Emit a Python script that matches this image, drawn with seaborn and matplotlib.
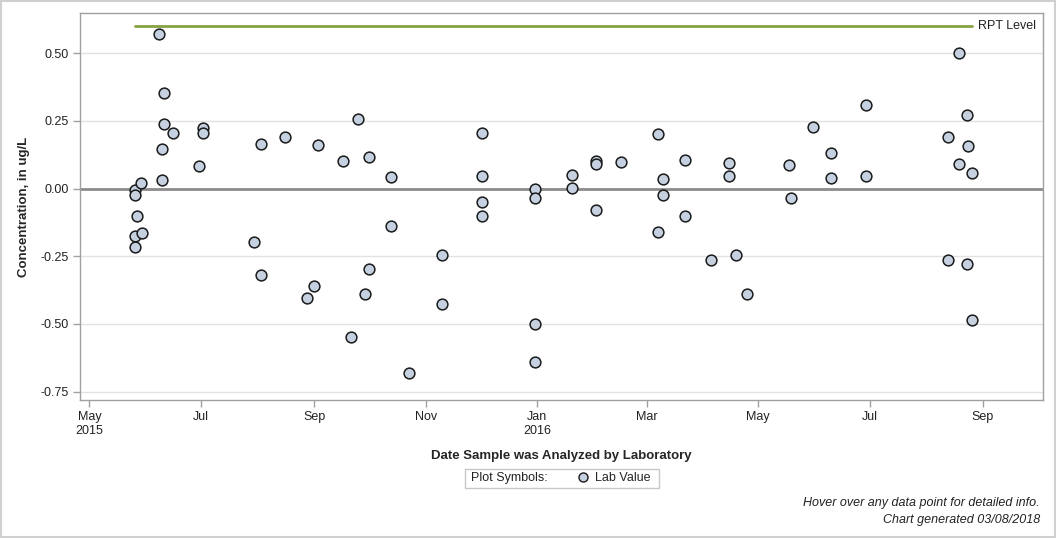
import numpy as np
import pandas as pd
import matplotlib
matplotlib.use('Agg')
import matplotlib.pyplot as plt
import matplotlib.dates as mdates
from matplotlib.lines import Line2D
import seaborn as sns

# sample dates (lab analysis) and concentration values
dates = [
    "2015-05-26", "2015-05-26", "2015-05-26", "2015-05-26", "2015-05-27", "2015-05-29", "2015-05-30",
    "2015-06-08", "2015-06-10", "2015-06-10", "2015-06-11", "2015-06-11", "2015-06-16",
    "2015-06-30", "2015-07-02", "2015-07-02",
    "2015-07-30", "2015-08-03", "2015-08-03", "2015-08-16", "2015-08-28",
    "2015-09-01", "2015-09-03", "2015-09-17", "2015-09-21", "2015-09-25", "2015-09-29",
    "2015-10-01", "2015-10-01", "2015-10-13", "2015-10-13", "2015-10-23",
    "2015-11-10", "2015-11-10",
    "2015-12-02", "2015-12-02", "2015-12-02", "2015-12-02",
    "2015-12-31", "2015-12-31", "2015-12-31", "2015-12-31",
    "2016-01-20", "2016-01-20",
    "2016-02-02", "2016-02-02", "2016-02-02", "2016-02-16",
    "2016-03-07", "2016-03-07", "2016-03-10", "2016-03-10", "2016-03-22", "2016-03-22",
    "2016-04-05", "2016-04-15", "2016-04-15", "2016-04-19", "2016-04-25",
    "2016-05-18", "2016-05-19", "2016-05-31",
    "2016-06-10", "2016-06-10", "2016-06-29", "2016-06-29",
    "2016-08-13", "2016-08-13", "2016-08-19", "2016-08-19",
    "2016-08-23", "2016-08-23", "2016-08-24", "2016-08-26", "2016-08-26",
]
values = [
    -0.006, -0.025, -0.174, -0.214, -0.102, 0.022, -0.165,
    0.572, 0.145, 0.033, 0.354, 0.240, 0.207,
    0.085, 0.225, 0.207,
    -0.199, 0.164, -0.318, 0.189, -0.405,
    -0.358, 0.162, 0.103, -0.550, 0.258, -0.391,
    0.116, -0.298, 0.044, -0.137, -0.683,
    -0.247, -0.428,
    0.207, 0.048, -0.048, -0.100,
    0.000, -0.033, -0.499, -0.639,
    0.052, 0.004,
    0.101, 0.092, -0.078, 0.100,
    0.203, -0.159, 0.036, -0.022, 0.107, -0.103,
    -0.265, 0.096, 0.048, -0.244, -0.391,
    0.089, -0.033, 0.229,
    0.133, 0.041, 0.310, 0.045,
    0.192, -0.265, 0.502, 0.092,
    0.273, -0.277, 0.156, 0.057, -0.487,
]
rpt_level = 0.6
y_ticks = [-0.75, -0.50, -0.25, 0.00, 0.25, 0.50]

df = pd.DataFrame({"date": pd.to_datetime(dates), "value": values})

sns.set_theme(style="white")
plt.rcParams['font.family'] = ['Liberation Sans', 'DejaVu Sans']

W, H = 1056, 538
fig = plt.figure(figsize=(W / 100, H / 100), dpi=100)
ax = fig.add_axes([0.0760, 0.2560, 0.9120, 0.7204])

# horizontal grid + zero reference
for t in y_ticks:
    ax.axhline(t, color='#e2e2e2', linewidth=1, zorder=0)
ax.axhline(0, color='#8c8c8c', linewidth=2, zorder=1)

# RPT level line spans first to last sample
ax.plot([df['date'].min(), df['date'].max()], [rpt_level, rpt_level],
        color='#86a044', linewidth=2, zorder=2)
ax.text(df['date'].max() + pd.Timedelta(days=3), rpt_level, "RPT Level",
        fontsize=9, color='#222222', va='center', ha='left')

sns.scatterplot(data=df, x='date', y='value', ax=ax, s=60,
                color='#c5d1e1', edgecolor='#1a1a1a', linewidth=1.1, zorder=3, legend=False)

ax.set_xlim(pd.Timestamp("2015-04-26"), pd.Timestamp("2016-10-04"))
ax.set_ylim(-0.782, 0.650)
ax.set_yticks(y_ticks)
ax.set_yticklabels([f"{t:.2f}" for t in y_ticks])

ax.xaxis.set_major_locator(mdates.MonthLocator(bymonth=[1, 3, 5, 7, 9, 11]))

def fmt_date(x, pos):
    d = mdates.num2date(x)
    lab = d.strftime('%b')
    if pos == 0 or d.month == 1:
        lab += "\n" + str(d.year)
    return lab

ax.xaxis.set_major_formatter(plt.FuncFormatter(fmt_date))
ax.tick_params(axis='both', which='major', labelsize=9, length=5, width=1,
               color='#a0a0a0', labelcolor='#222222', direction='out',
               bottom=True, left=True, pad=3)
for sp in ax.spines.values():
    sp.set_color('#a0a0a0')
    sp.set_linewidth(1)

ax.set_xlabel('Date Sample was Analyzed by Laboratory', fontsize=9.5, fontweight='bold', labelpad=9)
ax.set_ylabel('Concentration, in ug/L', fontsize=9.5, fontweight='bold', labelpad=8)

# legend box: "Plot Symbols:" caption + one marker entry
fig.patches.append(plt.Rectangle((465 / W, 1 - 488 / H), 194 / W, 19 / H, transform=fig.transFigure,
                                 fill=False, edgecolor='#c8c8c8', linewidth=1))
fig.text(471 / W, 1 - 478 / H, 'Plot Symbols:', fontsize=9, ha='left', va='center', color='#222222')
handle = Line2D([], [], linestyle='none', marker='o', markersize=6.5,
                markerfacecolor='#c5d1e1', markeredgecolor='#1a1a1a', markeredgewidth=1)
fig.legend([handle], ['Lab Value'], loc='center', bbox_to_anchor=(614 / W, 1 - 478 / H),
           fontsize=9, frameon=False, handlelength=0.8, handletextpad=0.6, borderpad=0)

fig.text(1040 / W, 1 - 503 / H, 'Hover over any data point for detailed info.',
         fontsize=9, style='italic', ha='right', va='center', color='#222222')
fig.text(1040 / W, 1 - 520 / H, 'Chart generated 03/08/2018',
         fontsize=9, style='italic', ha='right', va='center', color='#222222')

# outer border
fig.patches.append(plt.Rectangle((0.001, 0.001), 0.998, 0.998, transform=fig.transFigure,
                                 fill=False, edgecolor='#d0d0d0', linewidth=1.5))

fig.savefig('out.png', dpi=100)
